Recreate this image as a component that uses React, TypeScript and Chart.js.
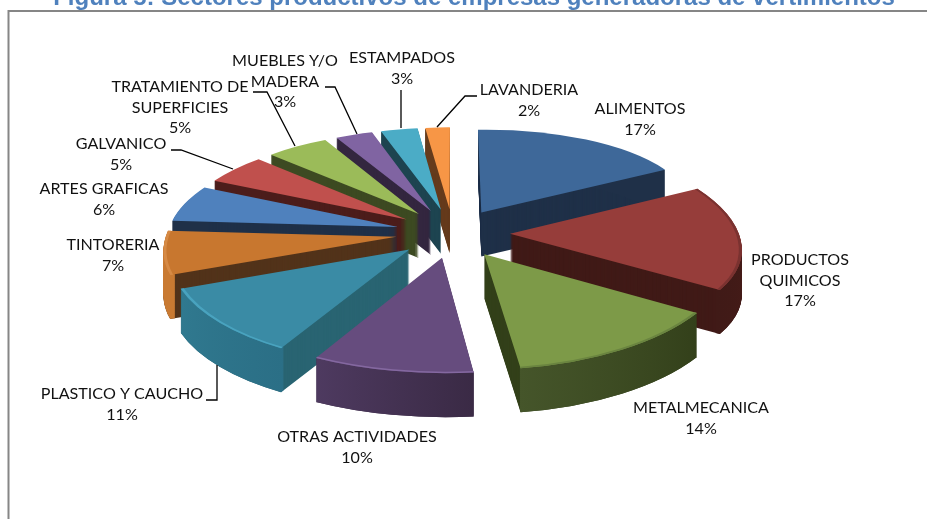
import React, { useEffect, useRef } from "react";
import { Chart, registerables } from "chart.js";

Chart.register(...registerables);

// ---- data ----
const categories = [
  "ALIMENTOS", "PRODUCTOS QUIMICOS", "METALMECANICA", "OTRAS ACTIVIDADES",
  "PLASTICO Y CAUCHO", "TINTORERIA", "ARTES GRAFICAS", "GALVANICO",
  "TRATAMIENTO DE SUPERFICIES", "MUEBLES Y/O MADERA", "ESTAMPADOS", "LAVANDERIA",
];
const values = [17, 17, 14, 10, 11, 7, 6, 5, 5, 3, 3, 2];
const topColors = ["#3e6899", "#963d3a", "#7d9a48", "#664c7e", "#3a8ba5", "#c8772f", "#4f81bd", "#c0504d", "#9bbb59", "#8064a2", "#4bacc6", "#f79646"];
const sideColors = ["#1f3048", "#401a17", "#33401a", "#3a2a45", "#296472", "#52331a", "#1f3048", "#4c1d1b", "#3d4a22", "#33263f", "#1d4450", "#653b1c"];
const rimStartColors = ["#1f3048", "#4a1c18", "#33401a", "#3a2a45", "#2b6f86", "#c97a32", "#1f3048", "#4c1d1b", "#3d4a22", "#33263f", "#1d4450", "#653b1c"];
const rimEndColors = ["#1f3048", "#401a17", "#45552a", "#4e3a60", "#30798f", "#c97a32", "#1f3048", "#4c1d1b", "#3d4a22", "#33263f", "#1d4450", "#653b1c"];
const edgeColors = [null, "#7a3230", "#6a8440", "#8468a0", "#49a3bf", "#d68a45", null, null, null, null, null, null];
const labelLines = [
  ["ALIMENTOS"], ["PRODUCTOS", "QUIMICOS"], ["METALMECANICA"], ["OTRAS ACTIVIDADES"],
  ["PLASTICO Y CAUCHO"], ["TINTORERIA"], ["ARTES GRAFICAS"], ["GALVANICO"],
  ["TRATAMIENTO DE", "SUPERFICIES"], ["MUEBLES Y/O", "MADERA"], ["ESTAMPADOS"], ["LAVANDERIA"],
];
const titleText = "Figura 5: Sectores productivos de empresas generadoras de vertimientos";

// ---- layout / style ----
const labelAnchors = [
  [640, 109], [800, 260], [701, 408], [357, 437], [122, 394], [113, 245],
  [104, 189], [121, 144], [180, 87], [285, 61], [402, 58], [529, 90],
];
const leaders = [
  [[217, 365], [217, 400], [206, 400]],
  [[171, 150], [181, 150], [233, 169]],
  [[253, 92], [267, 92], [295, 146]],
  [[325, 87], [335, 87], [357, 134]],
  [[401, 90], [401, 128]],
  [[477, 96], [465, 96], [437, 127]],
];
const VIEW = { cx: 453, cy: 233, tilt: 0.43, persp: 0.0005, radius: 230, explode: 57, depth: 44 };

const project = (X: number, Y: number) => {
  const s = 1 + VIEW.persp * Y;
  return { x: VIEW.cx + X * s, y: VIEW.cy + VIEW.tilt * Y * s };
};

const piePlugin = {
  id: "tiltedPie",
  beforeDatasetDraw(chart: any) {
    const { ctx } = chart;
    const arcs: any[] = chart.getDatasetMeta(0).data;
    const order = arcs
      .map((el, i) => ({ el, i, mid: (el.startAngle + el.endAngle) / 2 }))
      .sort((a, b) => Math.sin(a.mid) - Math.sin(b.mid));

    for (const { el, i, mid } of order) {
      const R = el.outerRadius;
      const ox = VIEW.explode * Math.cos(mid);
      const oy = VIEW.explode * Math.sin(mid);
      const ap = project(ox, oy);
      const u0 = R * Math.cos(el.startAngle), v0 = R * Math.sin(el.startAngle);
      const u1 = R * Math.cos(el.endAngle), v1 = R * Math.sin(el.endAngle);
      const p0 = project(ox + u0, oy + v0);
      const p1 = project(ox + u1, oy + v1);
      const det = u0 * v1 - u1 * v0;
      const dx0 = p0.x - ap.x, dy0 = p0.y - ap.y, dx1 = p1.x - ap.x, dy1 = p1.y - ap.y;
      const a = (dx0 * v1 - dx1 * v0) / det;
      const c = (dx1 * u0 - dx0 * u1) / det;
      const b = (dy0 * v1 - dy1 * v0) / det;
      const d = (dy1 * u0 - dy0 * u1) / det;

      const baseOptions = el.options;
      const inner = el.innerRadius;
      const paint = (dz: number, color: any, innerR: number) => {
        el.options = { ...baseOptions, backgroundColor: color, borderWidth: 0, offset: 0 };
        el.innerRadius = innerR;
        ctx.save();
        ctx.transform(a, b, c, d, ap.x, ap.y + dz);
        ctx.translate(-el.x, -el.y);
        el.draw(ctx);
        ctx.restore();
      };
      for (let dz = VIEW.depth; dz >= 1; dz--) paint(dz, sideColors[i], inner);
      // outer wall, shaded along the rim (gradient is in the slice's own frame)
      const grad = ctx.createLinearGradient(el.x + u0, el.y + v0, el.x + u1, el.y + v1);
      grad.addColorStop(0, rimStartColors[i]);
      grad.addColorStop(1, rimEndColors[i]);
      for (let dz = VIEW.depth; dz >= 1; dz--) paint(dz, grad, R - 5);
      paint(0, topColors[i], inner);
      const edge = edgeColors[i];
      if (edge) paint(0, edge, R - 3);
      el.options = baseOptions;
      el.innerRadius = inner;
    }
    return false;
  },
  afterDraw(chart: any) {
    const { ctx } = chart;
    ctx.save();
    // frame
    ctx.strokeStyle = "#868686";
    ctx.lineWidth = 2;
    ctx.beginPath();
    ctx.moveTo(8.5, 519);
    ctx.lineTo(8.5, 11);
    ctx.lineTo(927, 11);
    ctx.stroke();
    // title
    ctx.fillStyle = "#4f81bd";
    ctx.font = 'bold 24px "Liberation Sans"';
    ctx.textAlign = "center";
    ctx.textBaseline = "alphabetic";
    ctx.fillText(titleText, 474, 5);
    // leaders
    ctx.strokeStyle = "#000";
    ctx.lineWidth = 1.3;
    for (const pts of leaders) {
      ctx.beginPath();
      pts.forEach(([x, y], i) => (i ? ctx.lineTo(x, y) : ctx.moveTo(x, y)));
      ctx.stroke();
    }
    // labels (slightly widened, like the reference's stretched Calibri)
    ctx.fillStyle = "#111";
    ctx.font = "14.5px Lato";
    ctx.textBaseline = "middle";
    categories.forEach((_, i) => {
      const [x, y] = labelAnchors[i];
      const lines = [...labelLines[i], values[i] + "%"];
      lines.forEach((t, k) => {
        ctx.save();
        ctx.translate(x, y + 0.5 + k * 20.5);
        ctx.scale(1.11, 1);
        ctx.fillText(t, 0, 0);
        ctx.restore();
      });
    });
    ctx.restore();
  },
};

export default function App() {
  const ref = useRef<HTMLCanvasElement>(null);
  useEffect(() => {
    const chart = new Chart(ref.current!, {
      type: "pie",
      data: {
        labels: categories,
        datasets: [{ data: values, backgroundColor: topColors, borderWidth: 0 }],
      },
      options: {
        responsive: false,
        animation: false,
        radius: VIEW.radius,
        plugins: { legend: { display: false }, tooltip: { enabled: false } },
      } as any,
      plugins: [piePlugin as any],
    });
    return () => chart.destroy();
  }, []);
  return (
    <canvas
      ref={ref}
      width={927}
      height={519}
      style={{ position: "fixed", left: 0, top: 0, width: 927, height: 519, background: "#fff" }}
    />
  );
}
